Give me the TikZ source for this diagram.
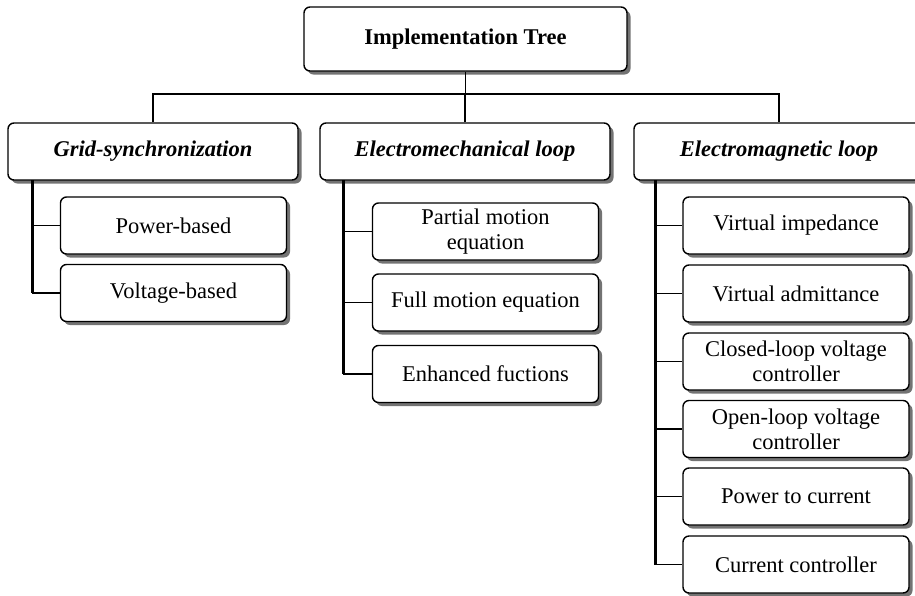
\documentclass[tikz,border=0pt]{standalone}
\usepackage{fontspec}
\setmainfont{Liberation Serif}
\usetikzlibrary{shadows}
\begin{document}
\begin{tikzpicture}[x=1pt,y=-1pt,
  box/.style={draw=black, line width=1.4pt, fill=white, rounded corners=6pt,
    drop shadow={shadow xshift=3.5pt, shadow yshift=-3.5pt, fill=black!55, opacity=1},
    align=center, inner sep=0pt, font=\fontsize{22.5}{25}\selectfont},
  rootbox/.style={box, minimum width=323pt, minimum height=64pt, font=\fontsize{22.5}{25}\selectfont\bfseries},
  catbox/.style={box, minimum width=290pt, minimum height=57pt, font=\fontsize{22.5}{25}\selectfont\bfseries\itshape},
  leafbox/.style={box, minimum width=226pt, minimum height=57pt},
  bus/.style={line width=1.4pt},
  trunk/.style={line width=3pt},
  stub/.style={line width=1.4pt}]
\useasboundingbox (0,0) rectangle (915,595);

\node[rootbox] (root) at (465.5,39) {Implementation Tree};

\node[catbox] (g) at (153,151.5) {Grid-synchronization};
\node[catbox] (m) at (465,151.5) {Electromechanical loop};
\node[catbox] (e) at (779,151.5) {Electromagnetic loop};

\coordinate (busy) at (0,94);
\draw[bus] (root.south) -- (root.south |- busy);
\draw[bus] (g.north) -- (g.north |- busy) -- (e.north |- busy) -- (e.north);
\draw[bus] (m.north) -- (m.north |- busy);

\node[leafbox] (g1) at (173.5,225.5) {Power-based};
\node[leafbox] (g2) at (173.5,293) {Voltage-based};

\node[leafbox] (m1) at (485.5,231.5) {Partial motion\\equation};
\node[leafbox] (m2) at (485.5,302.5) {Full motion equation};
\node[leafbox] (m3) at (485.5,374) {Enhanced fuctions};

\node[leafbox] (e1) at (796,225.5) {Virtual impedance};
\node[leafbox] (e2) at (796,293.5) {Virtual admittance};
\node[leafbox] (e3) at (796,361.5) {Closed-loop voltage\\controller};
\node[leafbox] (e4) at (796,429) {Open-loop voltage\\controller};
\node[leafbox] (e5) at (796,496.5) {Power to current};
\node[leafbox] (e6) at (796,564.5) {Current controller};

\coordinate (tg) at (32,180);
\coordinate (tm) at (343,180);
\coordinate (te) at (655,180);

\draw[trunk] (tg) -- (tg |- g2.west);
\foreach \n in {g1,g2} \draw[stub] (tg |- \n.west) -- (\n.west);
\draw[trunk] (tm) -- (tm |- m3.west);
\foreach \n in {m1,m2,m3} \draw[stub] (tm |- \n.west) -- (\n.west);
\draw[trunk] (te) -- (te |- e6.west);
\foreach \n in {e1,e2,e3,e4,e5,e6} \draw[stub] (te |- \n.west) -- (\n.west);
\end{tikzpicture}
\end{document}
